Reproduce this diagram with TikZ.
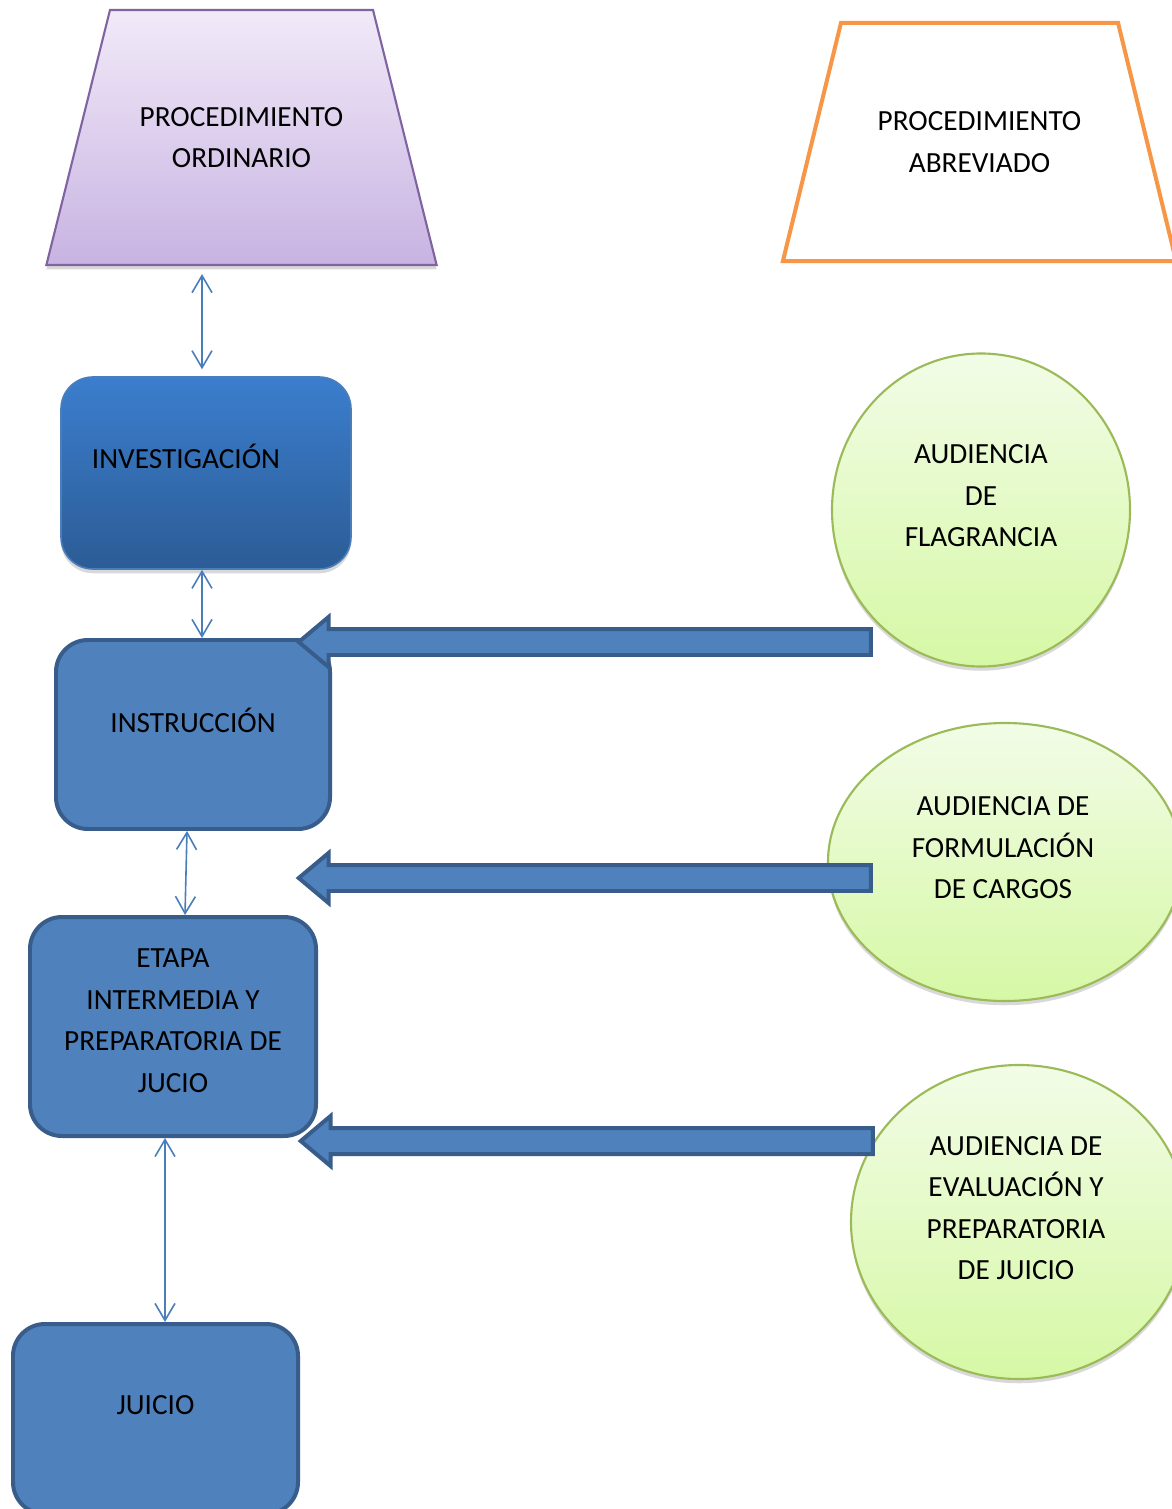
\documentclass[tikz,border=0pt]{standalone}
\usepackage{fontspec}
\setmainfont{Carlito}
\usetikzlibrary{shapes.geometric,shapes.arrows,arrows.meta,shadows}
\newcommand{\pxu}{0.376pt}
\newcommand{\proctxt}[3]{\begin{minipage}[c][#1][c]{#2}\centering #3\end{minipage}}

\definecolor{azul}{HTML}{4F81BD}
\definecolor{azulBorde}{HTML}{385D8A}
\definecolor{azulLinea}{HTML}{4A7EBB}
\definecolor{invTop}{HTML}{3B7ECD}
\definecolor{invBot}{HTML}{2C5C96}
\definecolor{lilaTop}{HTML}{F1EAF8}
\definecolor{lilaBot}{HTML}{C8B3E2}
\definecolor{lilaBorde}{HTML}{8064A2}
\definecolor{naranja}{HTML}{F79646}
\definecolor{verdeTop}{HTML}{F2FCE7}
\definecolor{verdeBot}{HTML}{D6F8A5}
\definecolor{verdeBorde}{HTML}{9BBB59}

\begin{document}
\begin{tikzpicture}[x=\pxu, y=-\pxu, font=\fontsize{11}{15.6}\selectfont,
    sombra/.style={drop shadow={opacity=0.3, shadow xshift=0pt, shadow yshift=-1.6pt}},
    txt/.style={align=center, yshift=14*\pxu},
    caja/.style={draw=azulBorde, fill=azul, line width=1.5pt, rounded corners=12pt, inner sep=0pt},
    audiencia/.style={ellipse, draw=verdeBorde, line width=0.8pt, top color=verdeTop, bottom color=verdeBot, inner sep=0pt, sombra},
    proc/.style={trapezium, inner sep=0pt},
    bloque/.style={single arrow, draw=azulBorde, fill=azul, line width=1.5pt, inner xsep=0pt, inner ysep=11*\pxu,
        single arrow head extend=12*\pxu, single arrow tip angle=80, minimum height=572*\pxu, rotate=180},
    >={Straight Barb[length=6.4pt, width=7.5pt]},
    enlace/.style={<->, draw=azulLinea, line width=0.6pt}]

    \path[use as bounding box, fill=white] (0,0) rectangle (1171,1509);

    % Procedimientos
    \node[proc, trapezium angle=76, draw=lilaBorde, line width=0.8pt, top color=lilaTop, bottom color=lilaBot, sombra]
        (ordin) at (241.5,137.5) {\proctxt{95.9pt}{98.9pt}{PROCEDIMIENTO\\ORDINARIO}};
    \node[proc, trapezium angle=76.3, draw=naranja, line width=1.5pt, fill=white]
        (abrev) at (979.5,142) {\proctxt{89.5pt}{104.2pt}{PROCEDIMIENTO\\ABREVIADO}};

    % Etapas
    \node[caja, draw=azulLinea, line width=0.6pt, top color=invTop, bottom color=invBot, sombra,
        minimum width=290*\pxu, minimum height=192*\pxu,
        label={[txt, xshift=-20*\pxu, yshift=3*\pxu]center:INVESTIGACIÓN}] (invest) at (206,473) {};
    \node[caja, minimum width=274*\pxu, minimum height=189*\pxu,
        label={[txt]center:INSTRUCCIÓN}] (instr) at (193,734.5) {};
    \node[caja, minimum width=286*\pxu, minimum height=219*\pxu,
        label={[txt, yshift=-8*\pxu]center:ETAPA\\INTERMEDIA Y\\PREPARATORIA DE\\JUCIO}] (etapa) at (173,1026.5) {};
    \node[caja, minimum width=285*\pxu, minimum height=190*\pxu,
        label={[txt]center:JUICIO}] (juicio) at (155.5,1419) {};

    % Audiencias
    \node[audiencia, minimum width=298*\pxu, minimum height=313*\pxu,
        label={[txt]center:AUDIENCIA\\DE\\FLAGRANCIA}] (flag) at (981,510) {};
    \node[audiencia, minimum width=354*\pxu, minimum height=278*\pxu,
        label={[txt, xshift=-2*\pxu]center:AUDIENCIA DE\\FORMULACIÓN\\DE CARGOS}] (cargos) at (1005,862) {};
    \node[audiencia, minimum width=336*\pxu, minimum height=314*\pxu,
        label={[txt, xshift=-3*\pxu]center:AUDIENCIA DE\\EVALUACIÓN Y\\PREPARATORIA\\DE JUICIO}] (evalua) at (1019,1222) {};

    % Enlaces
    \draw[enlace, shorten <=3pt, shorten >=2.6pt] ([xshift=-39.5*\pxu]ordin.south) -- ([xshift=-4*\pxu]invest.north);
    \draw[enlace] ([xshift=-4*\pxu]invest.south) -- ([xshift=9*\pxu]instr.north);
    \draw[enlace] ([xshift=-6*\pxu]instr.south) -- ([xshift=12*\pxu]etapa.north);
    \draw[enlace] ([xshift=-8*\pxu]etapa.south) -- ([xshift=9.5*\pxu]juicio.north);

    % Flechas de bloque
    \node[bloque] (fl-1) at (592.5,642) {};
    \node[bloque] (fl-2) at (592.5,878) {};
    \node[bloque] (fl-3) at (594.5,1141) {};

\end{tikzpicture}
\end{document}
